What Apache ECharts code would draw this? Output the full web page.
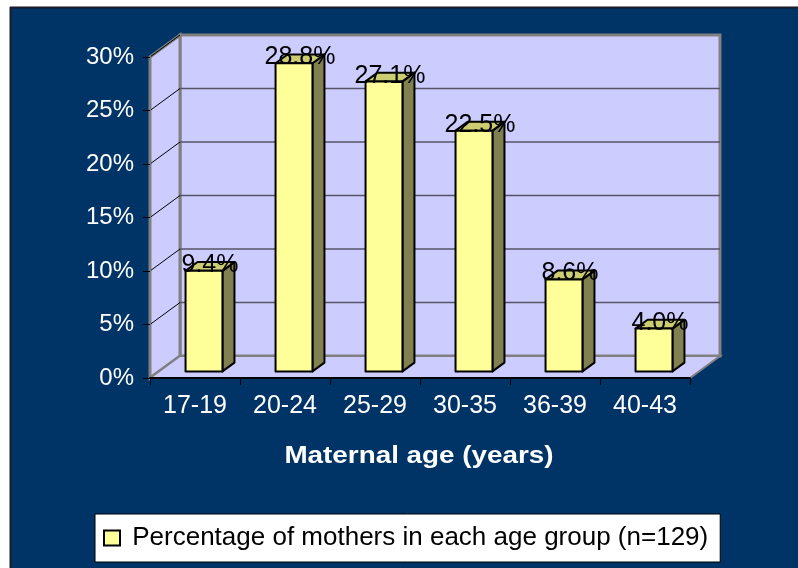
<!DOCTYPE html>
<html>
<head>
<meta charset="utf-8">
<title>Maternal age</title>
<script src="https://cdn.jsdelivr.net/npm/echarts@6/dist/echarts.min.js"></script>
<style>
    html, body { margin: 0; padding: 0; }
    #chart { width: 798px; height: 568px; }
</style>
</head>
<body>
<div id="chart"></div>
<script>
// data
var categories = ["17-19", "20-24", "25-29", "30-35", "36-39", "40-43"];
var percents = [9.4, 28.8, 27.1, 22.5, 8.6, 4.0];
var yTicks = [0, 5, 10, 15, 20, 25, 30];
var seriesName = "Percentage of mothers in each age group (n=129)";
var axisTitle = "Maternal age (years)";

// 3d depth of the plot box
var DX = 30;
var DY = -22;

var FONT = "Liberation Sans, Arial, sans-serif";

//walls, floor and back gridlines
function renderWalls(params, api) {
    var cs = params.coordSys;
    var x = cs.x, y = cs.y, w = cs.width, h = cs.height;
    var children = [];
    var wallStyle = { fill: "#CCCCFF", stroke: "#808080", lineWidth: 3 };

    children.push({
        type: "rect",
        shape: { x: x + DX, y: y + DY, width: w, height: h },
        style: wallStyle
    });
    children.push({
        type: "polygon",
        shape: { points: [[x, y], [x + DX, y + DY], [x + DX, y + h + DY], [x, y + h]] },
        style: wallStyle
    });
    children.push({
        type: "polygon",
        shape: { points: [[x, y + h], [x + DX, y + h + DY], [x + w + DX, y + h + DY], [x + w, y + h]] },
        style: { fill: "#CCCCFF", stroke: "#808080", lineWidth: 2 }
    });

    for (var i = 0; i < yTicks.length; i++) {
        var py = api.coord([0, yTicks[i]])[1];
        if (i > 0 && i < yTicks.length - 1) {
            children.push({
                type: "line",
                shape: { x1: x + DX, y1: py + DY, x2: x + w + DX, y2: py + DY },
                style: { stroke: "#555566", lineWidth: 1.5 }
            });
        }
        if (i > 0) {
            children.push({
                type: "line",
                shape: { x1: x, y1: py, x2: x + DX, y2: py + DY },
                style: { stroke: "#000", lineWidth: 1 }
            });
        }
    }
    return { type: "group", children: children };
}

//one 3d bar with its value label
function renderBar(params, api) {
    var idx = api.value(0);
    var val = api.value(1);
    var top = api.coord([idx, val]);
    var base = api.coord([idx, 0]);
    var band = api.size([1, 0])[0];
    var bw = band * 0.41;

    var fx = 0.3 * DX, fy = 0.3 * DY;   // front face offset in depth
    var sx = 0.4 * DX, sy = 0.4 * DY;   // bar depth

    var x0 = top[0] - bw / 2 + fx;
    var x1 = x0 + bw;
    var yT = top[1] + fy;
    var yB = base[1] + fy;
    var line = { stroke: "#000", lineWidth: 2, lineJoin: "round" };

    return {
        type: "group",
        children: [
            {
                type: "polygon",
                shape: { points: [[x1, yT], [x1 + sx, yT + sy], [x1 + sx, yB + sy], [x1, yB]] },
                style: Object.assign({ fill: "#808050" }, line)
            },
            {
                type: "polygon",
                shape: { points: [[x0, yT], [x0 + sx, yT + sy], [x1 + sx, yT + sy], [x1, yT]] },
                style: Object.assign({ fill: "#CCCC70" }, line)
            },
            {
                type: "rect",
                shape: { x: x0, y: yT, width: bw, height: yB - yT },
                style: Object.assign({ fill: "#FFFF99" }, line)
            },
            {
                type: "text",
                style: {
                    text: val.toFixed(1) + "%",
                    x: (x0 + x1) / 2 + sx / 2,
                    y: yT + sy + 3,
                    align: "center",
                    verticalAlign: "middle",
                    fill: "#000",
                    fontSize: 25,
                    fontFamily: FONT
                }
            }
        ]
    };
}

function initChart() {
    var myChart = echarts.init(document.getElementById("chart"));

    var barData = [];
    for (var i = 0; i < categories.length; i++) {
        barData.push([i, percents[i]]);
    }

    var option = {
        backgroundColor: "#003366",
        animation: false,
        grid: { left: 150, top: 57, width: 540, height: 321 },
        xAxis: {
            type: "category",
            data: categories,
            z: 5,
            axisLine: { lineStyle: { color: "#000", width: 2 } },
            axisTick: { show: true, length: 7, lineStyle: { color: "#000", width: 1 } },
            axisLabel: { color: "#fff", fontSize: 25, fontFamily: FONT, margin: 16 }
        },
        yAxis: {
            type: "value",
            min: 0,
            max: 30,
            interval: 5,
            z: 5,
            splitLine: { show: false },
            axisLine: { show: true, lineStyle: { color: "#808080", width: 2 } },
            axisTick: { show: true, length: 7, lineStyle: { color: "#000", width: 1 } },
            axisLabel: {
                color: "#fff", fontSize: 24, fontFamily: FONT, margin: 16,
                formatter: "{value}%"
            }
        },
        legend: {
            left: 95,
            top: 514,
            padding: [11, 12, 11, 8],
            backgroundColor: "#fff",
            borderColor: "#000",
            borderWidth: 1,
            borderRadius: 0,
            icon: "rect",
            itemWidth: 16,
            itemHeight: 15,
            itemGap: 10,
            data: [{
                name: seriesName,
                itemStyle: { color: "#FFFF99", borderColor: "#000", borderWidth: 2 }
            }],
            formatter: function (name) {
                return " " + name;
            },
            textStyle: { color: "#000", fontSize: 26, fontFamily: FONT }
        },
        graphic: [
            // white page edge at top and left
            { type: "rect", shape: { x: 0, y: 0, width: 798, height: 7 }, style: { fill: "#fff" } },
            { type: "rect", shape: { x: 0, y: 0, width: 10, height: 568 }, style: { fill: "#fff" } },
            { type: "line", shape: { x1: 10, y1: 7.5, x2: 798, y2: 7.5 }, style: { stroke: "#1b1b2a", lineWidth: 2 } },
            { type: "line", shape: { x1: 10.5, y1: 7, x2: 10.5, y2: 568 }, style: { stroke: "#1b1b2a", lineWidth: 2 } },
            // axis title, stretched to mimic the spaced letters
            {
                type: "text",
                x: 419,
                y: 456,
                scaleX: 1.16,
                style: {
                    text: axisTitle,
                    align: "center",
                    verticalAlign: "middle",
                    fill: "#fff",
                    fontSize: 24,
                    fontWeight: "bold",
                    fontFamily: FONT
                }
            }
        ],
        series: [
            {
                name: "walls",
                type: "custom",
                z: 1,
                silent: true,
                renderItem: renderWalls,
                data: [[0, 0]]
            },
            {
                name: seriesName,
                type: "custom",
                z: 3,
                renderItem: renderBar,
                itemStyle: { color: "#FFFF99" },
                encode: { x: 0, y: 1 },
                data: barData
            }
        ]
    };

    myChart.setOption(option);
}

initChart();
</script>
</body>
</html>
